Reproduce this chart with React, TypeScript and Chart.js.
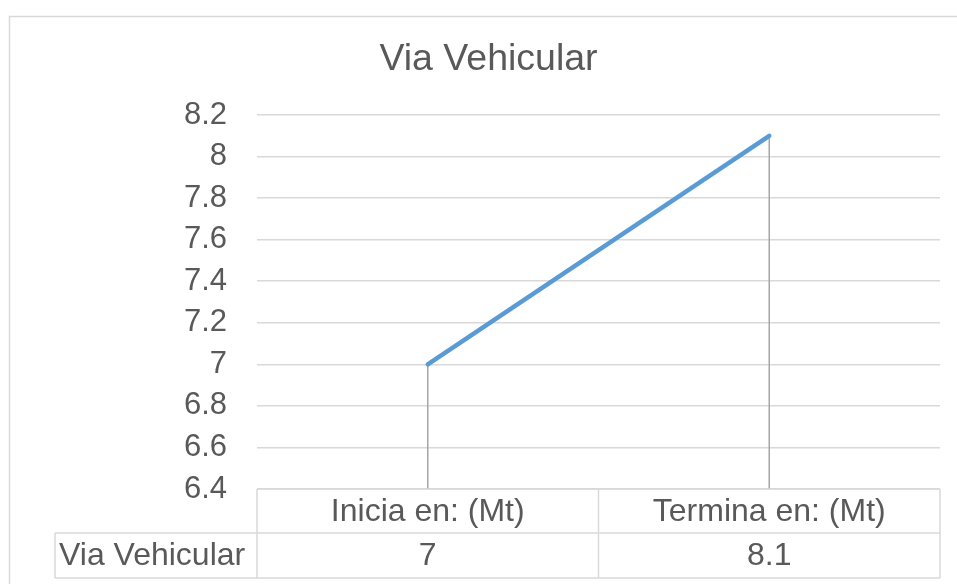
import React, { useEffect, useRef } from "react";
import { Chart, registerables } from "chart.js";

Chart.register(...registerables);

const chartTitle = "Via Vehicular";
const categories = ["Inicia en: (Mt)", "Termina en: (Mt)"];
const seriesName = "Via Vehicular";
const seriesValues = [7, 8.1];
const yMin = 6.4;
const yMax = 8.2;
const yStep = 0.2;

const TEXT = "#595959";
const GRID = "#d9d9d9";
const FONT = "'Liberation Sans', Arial, sans-serif";

const fmt = (v: number) => String(Number(Number(v).toFixed(1)));

const decorPlugin = {
  id: "decor",
  beforeDraw(chart: any) {
    const ctx = chart.ctx;
    ctx.save();
    ctx.fillStyle = "#ffffff";
    ctx.fillRect(0, 0, chart.width, chart.height);
    // outer chart border
    ctx.strokeStyle = GRID;
    ctx.lineWidth = 1.5;
    ctx.strokeRect(9.5, 16.5, chart.width + 20, chart.height + 20);
    // title
    ctx.fillStyle = TEXT;
    ctx.font = `37.5px ${FONT}`;
    ctx.textAlign = "center";
    ctx.textBaseline = "alphabetic";
    ctx.fillText(chartTitle, 488.5, 70);
    ctx.restore();
  },
  beforeDatasetsDraw(chart: any) {
    const ctx = chart.ctx;
    const meta = chart.getDatasetMeta(0);
    const bottom = chart.chartArea.bottom;
    ctx.save();
    ctx.strokeStyle = "#a6a6a6";
    ctx.lineWidth = 1.5;
    meta.data.forEach((pt: any) => {
      ctx.beginPath();
      ctx.moveTo(pt.x, pt.y);
      ctx.lineTo(pt.x, bottom);
      ctx.stroke();
    });
    ctx.restore();
  },
  afterDraw(chart: any) {
    const ctx = chart.ctx;
    const xs = chart.scales.x;
    const area = chart.chartArea;
    const n = categories.length;
    const cw = (area.right - area.left) / n;
    const top = area.bottom;
    const mid = top + 44;
    const bot = top + 89;
    const labelLeft = 55;
    ctx.save();
    ctx.strokeStyle = GRID;
    ctx.lineWidth = 1.5;
    ctx.beginPath();
    ctx.moveTo(area.left, top);
    ctx.lineTo(area.right, top);
    ctx.moveTo(labelLeft, mid);
    ctx.lineTo(area.right, mid);
    ctx.moveTo(labelLeft, bot);
    ctx.lineTo(area.right, bot);
    ctx.moveTo(labelLeft, mid);
    ctx.lineTo(labelLeft, bot);
    for (let i = 0; i <= n; i++) {
      const x = area.left + i * cw;
      ctx.moveTo(x, top);
      ctx.lineTo(x, bot);
    }
    ctx.stroke();
    ctx.fillStyle = TEXT;
    ctx.font = `32px ${FONT}`;
    ctx.textBaseline = "middle";
    ctx.textAlign = "center";
    categories.forEach((c, i) => {
      const x = xs.getPixelForValue(i);
      ctx.fillText(c, x, (top + mid) / 2 + 1);
      ctx.fillText(fmt(seriesValues[i]), x, (mid + bot) / 2 + 1);
    });
    ctx.textAlign = "left";
    ctx.fillText(seriesName, 59, (mid + bot) / 2 + 1);
    ctx.restore();
  },
};

export default function App() {
  const ref = useRef<HTMLCanvasElement | null>(null);
  useEffect(() => {
    if (!ref.current) return;
    const chart = new Chart(ref.current, {
      type: "line",
      data: {
        labels: categories,
        datasets: [
          {
            label: seriesName,
            data: seriesValues,
            borderColor: "#5b9bd5",
            backgroundColor: "#5b9bd5",
            borderWidth: 4.5,
            borderCapStyle: "round",
            pointRadius: 0,
            pointHoverRadius: 0,
            tension: 0,
          },
        ],
      },
      options: {
        responsive: false,
        animation: false,
        events: [],
        layout: { padding: { top: 115, right: 17, bottom: 95, left: 0 } },
        plugins: {
          legend: { display: false },
          title: { display: false },
          tooltip: { enabled: false },
        },
        scales: {
          x: {
            type: "category",
            display: false,
            offset: true,
          },
          y: {
            min: yMin,
            max: yMax,
            afterFit: (s: any) => {
              s.width = 257;
            },
            border: { display: false },
            grid: { color: GRID, lineWidth: 1.5, drawTicks: false },
            ticks: {
              stepSize: yStep,
              padding: 30,
              color: TEXT,
              font: { family: FONT, size: 31 },
              callback: (v: any) => fmt(v),
            },
          },
        },
      },
      plugins: [decorPlugin],
    });
    return () => chart.destroy();
  }, []);
  return (
    <div style={{ position: "absolute", left: 0, top: 0, width: 957, height: 584 }}>
      <canvas ref={ref} width={957} height={584} style={{ display: "block" }} />
    </div>
  );
}
